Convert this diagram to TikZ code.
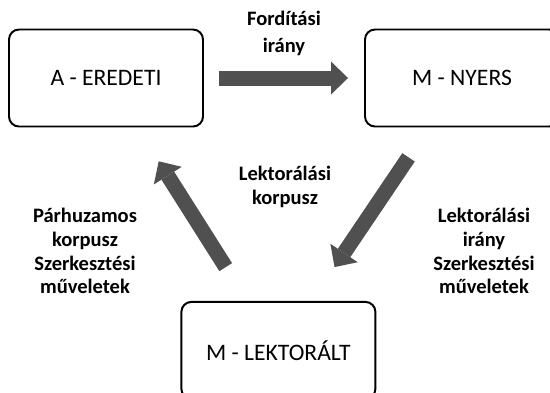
\documentclass[tikz,border=0pt]{standalone}
\usepackage{fontspec}
\setmainfont{Carlito}
\usetikzlibrary{arrows.meta}
\definecolor{arrowgray}{RGB}{80,80,80}

\begin{document}
\begin{tikzpicture}[
    stage/.style={draw, line width=1.4pt, rounded corners=0.25cm, minimum width=4.85cm, minimum height=2.425cm, font=\fontsize{16.8}{20}\selectfont},
    note/.style={align=center, font=\fontsize{14.6}{17}\selectfont\bfseries},
    flow/.style={color=arrowgray, line width=0.375cm, -{Triangle[length=0.425cm, width=0.825cm, line width=0pt]}}
]
\useasboundingbox (0,0) rectangle (13.75,-9.8);

\node[stage] (orig) at (2.65,-1.95) {A - EREDETI};
\node[stage] (raw) at (11.55,-1.95) {M - NYERS};
\node[stage] (edited) at (6.96,-8.76) {M - LEKTORÁLT};

\draw[flow, shorten <=0.375cm, shorten >=0.4cm] (orig) -- (raw);
\draw[flow, shorten <=0.9cm, shorten >=1.02cm] (raw) -- (edited);
\draw[flow, shorten <=1.0cm, shorten >=1.0cm] (edited) -- (orig);

\node[note] (transl) at (7.1,-0.84) {Fordítási\\[2pt]irány};
\node[note] (corpus) at (7.125,-4.675) {Lektorálási\\korpusz};
\node[note] (parallel) at (2.125,-6.275) {Párhuzamos\\korpusz\\Szerkesztési\\műveletek};
\node[note] (postedit) at (12.1,-6.275) {Lektorálási\\irány\\Szerkesztési\\műveletek};

\end{tikzpicture}
\end{document}
